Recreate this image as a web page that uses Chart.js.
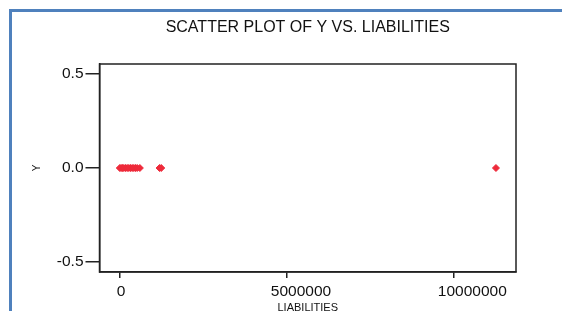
<!DOCTYPE html>
<html>
<head>
    <title>Scatter Plot of Y vs. Liabilities</title>
    <script src="https://cdn.jsdelivr.net/npm/chart.js"></script>
    <style>
        body { margin: 0; background: #fff; }
        #wrap { position: relative; width: 562px; height: 311px; }
        #frame { position: absolute; left: 9px; top: 9px; right: 0; bottom: 0;
                 border-top: 3px solid #4f81bd; border-left: 3px solid #4f81bd; pointer-events: none; }
    </style>
</head>
<body>
<div id="wrap">
    <canvas id="scatterChart" width="562" height="311"></canvas>
    <div id="frame"></div>
</div>

<script>
    // values
    const liabilities = [0, 40000, 80000, 120000, 170000, 220000, 270000, 320000, 370000, 420000, 470000, 520000, 600000, 1190000, 1240000, 11260000];
    const yValues     = [0, 0, 0, 0, 0, 0, 0, 0, 0, 0, 0, 0, 0, 0, 0, 0];
    const xTicks = [0, 5000000, 10000000];
    const yTicks = [-0.5, 0.0, 0.5];

    const points = liabilities.map((x, i) => ({ x: x, y: yValues[i] }));
    const FONT = 'Liberation Sans, Arial, sans-serif';

    // closed frame round the plot area
    const boxPlugin = {
        id: 'box',
        afterDraw(chart) {
            const a = chart.chartArea;
            const ctx = chart.ctx;
            ctx.save();
            ctx.strokeStyle = '#222';
            ctx.lineWidth = 1.5;
            ctx.strokeRect(a.left, a.top, a.right - a.left, a.bottom - a.top);
            ctx.restore();
        }
    };

    new Chart(document.getElementById('scatterChart'), {
        type: 'scatter',
        data: {
            datasets: [{
                data: points,
                pointStyle: 'rectRot',
                pointRadius: 3.5,
                backgroundColor: '#ee2a3a',
                borderColor: '#ee2a3a',
                borderWidth: 1
            }]
        },
        options: {
            responsive: false,
            animation: false,
            layout: { padding: { left: 0, right: 46, top: 0, bottom: 0 } },
            plugins: {
                legend: { display: false },
                tooltip: { enabled: false },
                title: {
                    display: true,
                    fullSize: false,
                    text: 'SCATTER PLOT OF Y VS. LIABILITIES',
                    color: '#111',
                    font: { family: FONT, size: 16, weight: 'normal' },
                    padding: { top: 18.4, bottom: 26.4 }
                }
            },
            scales: {
                x: {
                    type: 'linear',
                    min: -608000,
                    max: 11860000,
                    afterBuildTicks: s => { s.ticks = xTicks.map(v => ({ value: v })); },
                    afterFit: s => { s.height = 39; },
                    grid: { drawOnChartArea: false, drawTicks: true, tickLength: 6, color: '#222', lineWidth: 1.5 },
                    border: { display: true, color: '#222', width: 1.5 },
                    ticks: { color: '#111', padding: 4, maxRotation: 0, align: 'start', labelOffset: -16,
                             font: { family: FONT, size: 15.5 },
                             callback: v => (v === 0 ? '   0' : String(v)) },
                    title: { display: true, text: 'LIABILITIES', color: '#111',
                             font: { family: FONT, size: 11, lineHeight: 1 }, padding: { top: 0, bottom: -2 } }
                },
                y: {
                    type: 'linear',
                    min: -0.553,
                    max: 0.553,
                    afterBuildTicks: s => { s.ticks = yTicks.map(v => ({ value: v })); },
                    afterFit: s => { s.width = 99.5; },
                    grid: { drawOnChartArea: false, drawTicks: true, tickLength: 14, color: '#222', lineWidth: 1.5 },
                    border: { display: true, color: '#222', width: 1.5 },
                    ticks: { color: '#111', padding: 2, font: { family: FONT, size: 15.5 },
                             callback: v => v.toFixed(1) },
                    title: { display: true, text: 'Y', color: '#111',
                             font: { family: FONT, size: 10 }, padding: { top: 31, bottom: 0 } }
                }
            }
        },
        plugins: [boxPlugin]
    });
</script>
</body>
</html>
